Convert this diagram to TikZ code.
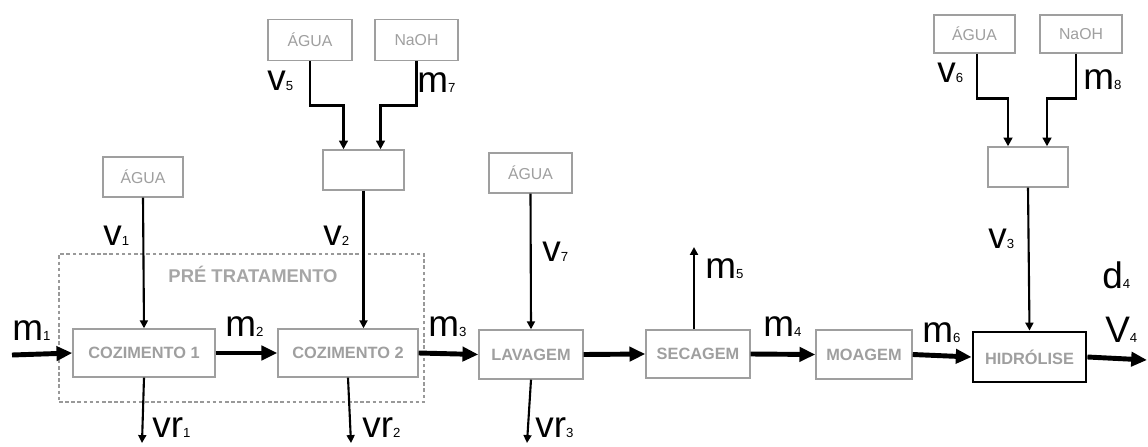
\documentclass[tikz,border=0pt]{standalone}
\usepackage{fontspec}
\setmainfont{Liberation Sans}
\usetikzlibrary{arrows.meta,calc}
\newcommand{\flab}[2]{{\fontsize{21}{21}\selectfont #1}{\fontsize{7.5}{7.5}\selectfont #2}}
\tikzset{
  pbox/.style={draw=gray!75, line width=0.8pt, inner sep=0pt, text=gray!75, font=\fontsize{9.3}{10}\selectfont\bfseries},
  sbox/.style={pbox, font=\fontsize{9}{10}\selectfont},
  thin/.style={draw=black, line width=1.2pt, -{Triangle[length=4.5pt,width=4.5pt]}},
  mid/.style={draw=black, line width=1.5pt, -{Triangle[length=5pt,width=5pt]}},
  thick/.style={draw=black, line width=2.8pt, -{Triangle[length=9pt,width=8pt]}},
  lab/.style={anchor=base west, inner sep=0pt, text=black}
}
\begin{document}
\begin{tikzpicture}[x=0.02cm,y=-0.02cm]
\useasboundingbox[fill=white] (0,0) rectangle (1148,446);
% dashed pre-treatment frame
\node[draw=gray!80, dash pattern=on 2pt off 1.5pt, line width=0.6pt, minimum width=365*0.02cm, minimum height=148*0.02cm, inner sep=0pt] (pre) at (241.5,328) {};
\node[text=gray!70, font=\fontsize{10.5}{11}\selectfont\bfseries] (pretxt) at (253,274) {PRÉ TRATAMENTO};
% process boxes
\node[pbox, minimum width=142*0.02cm, minimum height=48*0.02cm] (cz1) at (144,353) {COZIMENTO 1};
\node[pbox, minimum width=140*0.02cm, minimum height=48*0.02cm] (cz2) at (348,353) {COZIMENTO 2};
\node[pbox, minimum width=104*0.02cm, minimum height=49*0.02cm] (lav) at (531,354.5) {LAVAGEM};
\node[pbox, minimum width=104*0.02cm, minimum height=48*0.02cm] (sec) at (698,354) {SECAGEM};
\node[pbox, minimum width=96*0.02cm, minimum height=49*0.02cm] (moa) at (864,354.5) {MOAGEM};
\node[pbox, draw=black, line width=1.6pt, minimum width=113*0.02cm, minimum height=50*0.02cm] (hid) at (1029.5,357) {HIDRÓLISE};
% feed boxes
\node[sbox, minimum width=80*0.02cm, minimum height=40*0.02cm] (ag1) at (143,177) {ÁGUA};
\node[sbox, minimum width=84*0.02cm, minimum height=41*0.02cm] (ag2) at (310,40) {ÁGUA};
\node[sbox, minimum width=83*0.02cm, minimum height=41*0.02cm] (na1) at (416.5,40) {NaOH};
\node[sbox, minimum width=81*0.02cm, minimum height=40*0.02cm] (mx1) at (363.5,170) {};
\node[sbox, minimum width=83*0.02cm, minimum height=40*0.02cm] (ag3) at (530.5,173) {ÁGUA};
\node[sbox, minimum width=81*0.02cm, minimum height=38*0.02cm] (ag4) at (974.5,34) {ÁGUA};
\node[sbox, minimum width=82*0.02cm, minimum height=38*0.02cm] (na2) at (1081,34) {NaOH};
\node[sbox, minimum width=80*0.02cm, minimum height=40*0.02cm] (mx2) at (1028,167) {};
% free ends
\coordinate (in1) at (12,355);
\coordinate (out) at (1147,360);
\coordinate (r1) at (142,443);
\coordinate (r2) at (351,443);
\coordinate (r3) at (527,443);
\coordinate (m5e) at (694,247);
% main line
\draw[thick] (in1) -- (cz1.west);
\draw[thick] (cz1.east) -- (cz2.west);
\draw[thick] (cz2.east) -- (lav.west);
\draw[thick] (lav.east) -- (sec.west);
\draw[thick] (sec.east) -- (moa.west);
\draw[thick] (moa.east) -- (hid.west);
\draw[thick] (hid.east) -- (out);
% verticals
\draw[thin] (ag1.south) -- (cz1.north);
\draw[thin] (mx1.south) -- (mx1.south |- cz2.north);
\draw[thin] (ag3.south) -- (lav.north);
\draw[thin] (mx2.south) -- (hid.north);
\draw[thin] (cz1.south) -- (r1);
\draw[thin] (cz2.south) -- (r2);
\draw[thin] (lav.south) -- (r3);
\draw[thin] (m5e |- sec.north) -- (m5e);
% mixers
\draw[mid] (ag2.south) -- ++(0,44.5) -| ($(mx1.north)+(-20,0)$);
\draw[mid] (na1.south) -- ++(0,44.5) -| ($(mx1.north)+(17,0)$);
\draw[mid] ($(ag4.south)+(2.5,0)$) -- ++(0,45) -| ($(mx2.north)+(-20,0)$);
\draw[mid] ($(na2.south)+(-5,0)$) -- ++(0,45) -| ($(mx2.north)+(19,0)$);
% labels
\node[lab] (lm1) at (12,340) {\flab{m}{1}};
\node[lab] (lm2) at (225,336) {\flab{m}{2}};
\node[lab] (lm3) at (428,336) {\flab{m}{3}};
\node[lab] (lm4) at (763,336) {\flab{m}{4}};
\node[lab] (lm5) at (705,278) {\flab{m}{5}};
\node[lab] (lm6) at (922,342) {\flab{m}{6}};
\node[lab] (lm7) at (417,92) {\flab{m}{7}};
\node[lab] (lm8) at (1083,90) {\flab{m}{8}};
\node[lab] (lv1) at (103,245) {\flab{v}{1}};
\node[lab] (lv2) at (323,245) {\flab{v}{2}};
\node[lab] (lv3) at (988,248) {\flab{v}{3}};
\node[lab] (lv5) at (267,91) {\flab{v}{5}};
\node[lab] (lv6) at (937,83) {\flab{v}{6}};
\node[lab] (lv7) at (542,261) {\flab{v}{7}};
\node[lab] (lvr1) at (152,437) {\flab{vr}{1}};
\node[lab] (lvr2) at (362,437) {\flab{vr}{2}};
\node[lab] (lvr3) at (535,437) {\flab{vr}{3}};
\node[lab] (ld4) at (1102,288) {\flab{d}{4}};
\node[lab] (lV4) at (1105,342) {\flab{V}{4}};
\end{tikzpicture}
\end{document}
